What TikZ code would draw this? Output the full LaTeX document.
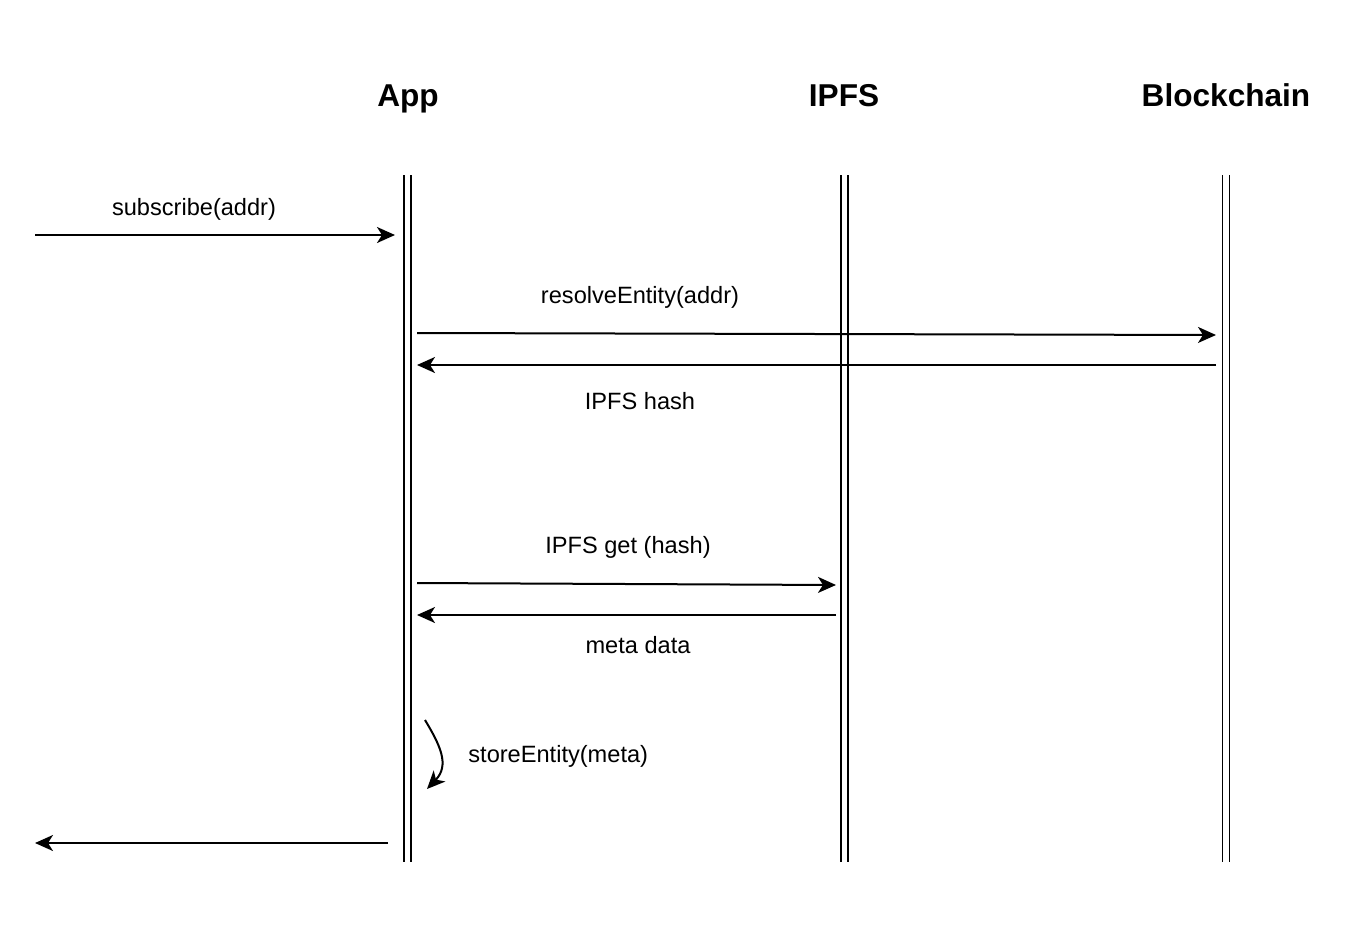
\documentclass[tikz,border=0pt]{standalone}
\usepackage{fontspec}
\setmainfont{Liberation Sans}
\usetikzlibrary{arrows.meta}
\begin{document}
\begin{tikzpicture}[x=0.5pt,y=-0.5pt,
  msg/.style={line width=1pt,-{Stealth[length=9pt,width=8pt,inset=2.5pt]}},
  lifeline/.style={line width=0.8pt,double distance=2.8pt},
  lbl/.style={font=\fontsize{11.8}{14}\selectfont,inner sep=0pt,anchor=base},
  hdr/.style={font=\bfseries\fontsize{15.8}{18}\selectfont,inner sep=0pt,anchor=base}]
\useasboundingbox (0,0) rectangle (1372,932);
\fill[white] (0,0) rectangle (1372,932);
% headers
\node[hdr] (happ) at (408,106) {App};
\node[hdr] (hipfs) at (844,106) {IPFS};
\node[hdr] (hbc) at (1226,106) {Blockchain};
% lifelines
\coordinate (appT) at (407.3,175); \coordinate (appB) at (407.3,862);
\coordinate (ipfsT) at (844.5,175); \coordinate (ipfsB) at (844.5,862);
\coordinate (bcT) at (1226,175); \coordinate (bcB) at (1226,862);
\draw[lifeline] (appT) -- (appB);
\draw[lifeline] (ipfsT) -- (ipfsB);
\draw[lifeline] (bcT) -- (bcB);
% messages
\coordinate (in1) at (35,235); \coordinate (in2) at (395,235);
\draw[msg] (in1) -- (in2);
\node[lbl] (l1) at (194,215) {subscribe(addr)};
\coordinate (r1) at (417,333); \coordinate (r2) at (1216,335);
\draw[msg] (r1) -- (r2);
\node[lbl] (l2) at (640,303) {resolveEntity(addr)};
\coordinate (h1) at (1216,365); \coordinate (h2) at (417,365);
\draw[msg] (h1) -- (h2);
\node[lbl] (l3) at (640,409) {IPFS hash};
\coordinate (g1) at (417,583); \coordinate (g2) at (836,585);
\draw[msg] (g1) -- (g2);
\node[lbl] (l4) at (628,553) {IPFS get (hash)};
\coordinate (m1) at (836,615); \coordinate (m2) at (417,615);
\draw[msg] (m1) -- (m2);
\node[lbl] (l5) at (638,653) {meta data};
\coordinate (s1) at (425,720); \coordinate (s2) at (427,789);
\draw[msg] (s1) .. controls (440,745) and (450,765) .. (s2);
\node[lbl,anchor=base west] (l6) at (468,762) {storeEntity(meta)};
\coordinate (o1) at (388,843); \coordinate (o2) at (35,843);
\draw[msg] (o1) -- (o2);
\end{tikzpicture}
\end{document}
